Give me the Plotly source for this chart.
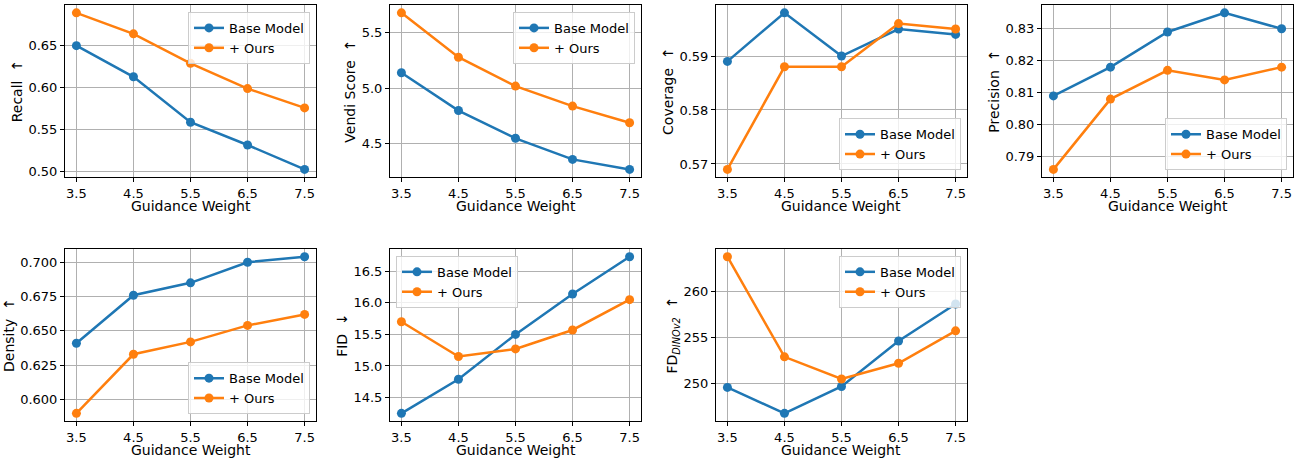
import plotly.graph_objects as go

guidance = [3.5, 4.5, 5.5, 6.5, 7.5]
series_names = ["Base Model", "+ Ours"]

recall_base = [0.650, 0.613, 0.559, 0.532, 0.503]
recall_ours = [0.689, 0.664, 0.629, 0.599, 0.576]
vendi_base = [5.14, 4.80, 4.55, 4.36, 4.27]
vendi_ours = [5.68, 5.28, 5.02, 4.84, 4.69]
coverage_base = [0.589, 0.598, 0.590, 0.595, 0.594]
coverage_ours = [0.569, 0.588, 0.588, 0.596, 0.595]
precision_base = [0.809, 0.818, 0.829, 0.835, 0.830]
precision_ours = [0.786, 0.808, 0.817, 0.814, 0.818]
density_base = [0.641, 0.676, 0.685, 0.700, 0.704]
density_ours = [0.590, 0.633, 0.642, 0.654, 0.662]
fid_base = [14.25, 14.79, 15.50, 16.14, 16.73]
fid_ours = [15.70, 15.15, 15.27, 15.57, 16.05]
fd_base = [249.6, 246.8, 249.7, 254.6, 258.6]
fd_ours = [263.7, 252.9, 250.5, 252.2, 255.7]
x_title = "Guidance Weight"

NB = "\u00a0"
panels = [
    dict(title="Recall" + NB + NB + "↑", base=recall_base, ours=recall_ours,
         ticks=[0.50, 0.55, 0.60, 0.65], fmt=".2f", legend="ur"),
    dict(title="Vendi Score" + NB + NB + "↑", base=vendi_base, ours=vendi_ours,
         ticks=[4.5, 5.0, 5.5], fmt=".1f", legend="ur"),
    dict(title="Coverage" + NB + NB + "↑", base=coverage_base, ours=coverage_ours,
         ticks=[0.57, 0.58, 0.59], fmt=".2f", legend="lr"),
    dict(title="Precision" + NB + NB + "↑", base=precision_base, ours=precision_ours,
         ticks=[0.79, 0.80, 0.81, 0.82, 0.83], fmt=".2f", legend="lr"),
    dict(title="Density" + NB + NB + "↑", base=density_base, ours=density_ours,
         ticks=[0.600, 0.625, 0.650, 0.675, 0.700], fmt=".3f", legend="lr"),
    dict(title="FID" + NB + NB + "↓", base=fid_base, ours=fid_ours,
         ticks=[14.5, 15.0, 15.5, 16.0, 16.5], fmt=".1f", legend="ul"),
    dict(title="FD<sub><i>DINOv2</i></sub>" + NB + NB + "↑", base=fd_base, ours=fd_ours,
         ticks=[250, 255, 260], fmt="d", legend="ur"),
]

W, H = 1302, 458
x_px = [(65, 316), (390, 641), (716, 967), (1042, 1293)]
y_px = [(5, 178), (250, 423)]
colors = ["#1f77b4", "#ff7f0e"]
FONT = "DejaVu Sans"

fig = go.Figure()
layout = dict(
    width=W, height=H, margin=dict(l=0, r=0, t=0, b=0),
    paper_bgcolor="white", plot_bgcolor="white",
    font=dict(family=FONT, size=13, color="black"),
    showlegend=True,
)
annotations = []

for i, p in enumerate(panels):
    r, c = divmod(i, 4)
    k = i + 1
    xa = "xaxis" if k == 1 else f"xaxis{k}"
    ya = "yaxis" if k == 1 else f"yaxis{k}"
    xr = "x" if k == 1 else f"x{k}"
    yr = "y" if k == 1 else f"y{k}"
    lg = "legend" if k == 1 else f"legend{k}"
    for s, (name, vals) in enumerate(zip(series_names, [p["base"], p["ours"]])):
        fig.add_trace(go.Scatter(
            x=guidance, y=vals, name=name, mode="lines+markers",
            line=dict(color=colors[s], width=2.5),
            marker=dict(color=colors[s], size=9),
            xaxis=xr, yaxis=yr, legend=lg,
        ))
    allv = p["base"] + p["ours"]
    lo, hi = min(allv), max(allv)
    pad = (hi - lo) * 0.05
    x0, x1 = x_px[c]
    y0, y1 = y_px[r]
    dx = (x0 / W, x1 / W)
    dy = (1 - y1 / H, 1 - y0 / H)
    common = dict(showline=True, linecolor="black", linewidth=1, mirror=True,
                  ticks="outside", ticklen=4, tickcolor="black", tickwidth=1,
                  showgrid=True, gridcolor="#b0b0b0", gridwidth=0.8,
                  zeroline=False, tickfont=dict(size=13, family=FONT))
    layout[xa] = dict(domain=dx, anchor=yr, range=[3.3, 7.7],
                      tickvals=guidance, ticktext=[str(g) for g in guidance],
                      **common)
    layout[ya] = dict(domain=dy, anchor=xr, range=[lo - pad, hi + pad],
                      tickvals=p["ticks"], tickformat=p["fmt"],
                      title=dict(text=p["title"], font=dict(size=14), standoff=2),
                      **common)
    annotations.append(dict(
        text=x_title, xref="paper", yref="paper",
        x=(x0 + x1) / 2 / W, y=1 - (y1 + 29) / H, xanchor="center", yanchor="middle",
        showarrow=False, font=dict(size=14, family=FONT, color="black"),
    ))
    pos = p["legend"]
    if pos == "ur":
        lx, lxa, ly, lya = (x1 - 6) / W, "right", 1 - (y0 + 7) / H, "top"
    elif pos == "lr":
        lx, lxa, ly, lya = (x1 - 6) / W, "right", 1 - (y1 - 7) / H, "bottom"
    else:
        lx, lxa, ly, lya = (x0 + 6) / W, "left", 1 - (y0 + 7) / H, "top"
    layout[lg] = dict(x=lx, xanchor=lxa, y=ly, yanchor=lya,
                      bgcolor="rgba(255,255,255,0.8)", bordercolor="#cccccc",
                      borderwidth=1, font=dict(size=13, family=FONT),
                      tracegroupgap=0, itemwidth=30)

layout["annotations"] = annotations
fig.update_layout(**layout)
fig.write_html("out.html", config={"displayModeBar": False},
               post_script="document.body.style.margin='0';document.body.style.overflow='hidden';")
